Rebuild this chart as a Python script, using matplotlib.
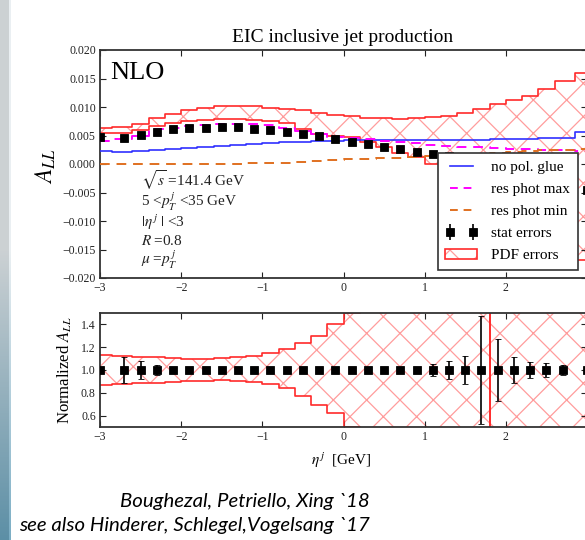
import numpy as np
import matplotlib
matplotlib.use("Agg")
import matplotlib.pyplot as plt
from matplotlib.patches import Patch
from matplotlib.lines import Line2D

plt.rcParams['font.family'] = ['Liberation Serif', 'DejaVu Serif']
plt.rcParams['mathtext.fontset'] = 'stix'
plt.rcParams['hatch.color'] = '#ff9c9c'
plt.rcParams['hatch.linewidth'] = 0.9

# ---------------- data ----------------
eta = [-3.0, -2.7, -2.5, -2.3, -2.1, -1.9, -1.7, -1.5, -1.3, -1.1, -0.9, -0.7, -0.5, -0.3, -0.1,
       0.1, 0.3, 0.5, 0.7, 0.9, 1.1, 1.3, 1.5, 1.7, 1.9, 2.1, 2.3, 2.5, 2.7, 3.0]

all_central = [0.0047, 0.0046, 0.0051, 0.0056, 0.0061, 0.0063, 0.0064, 0.0065, 0.0065, 0.0062,
               0.0060, 0.0057, 0.0052, 0.0049, 0.0044, 0.0039, 0.0035, 0.0030, 0.0026, 0.0021,
               0.0017, 0.0014, 0.0008, 0.0002, -0.0005, -0.0013, -0.0021, -0.0029, -0.0037, -0.0045]

rel_stat_err = [0.0, 0.117, 0.077, 0.044, 0.02, 0.01, 0.008, 0.008, 0.008, 0.008,
                0.008, 0.008, 0.008, 0.008, 0.008, 0.008, 0.008, 0.008, 0.01, 0.02,
                0.053, 0.08, 0.125, 0.47, 0.27, 0.11, 0.073, 0.059, 0.044, 0.03]

no_pol_glue = [0.0022, 0.0021, 0.0022, 0.0024, 0.0026, 0.0028, 0.0030, 0.0032, 0.0034, 0.0035,
               0.0037, 0.0038, 0.0039, 0.0040, 0.0041, 0.0042, 0.0042, 0.0042, 0.0042, 0.0042,
               0.0042, 0.0042, 0.0042, 0.0042, 0.0043, 0.0043, 0.0044, 0.0046, 0.0046, 0.0057]

res_phot_max = [0.0041, 0.0044, 0.0050, 0.0061, 0.0064, 0.0067, 0.0068, 0.0071, 0.0071, 0.0071,
                0.0068, 0.0064, 0.0058, 0.0053, 0.0048, 0.0046, 0.0043, 0.0041, 0.0038, 0.0036,
                0.0034, 0.0032, 0.0030, 0.0029, 0.0028, 0.0027, 0.0026, 0.0025, 0.0024, 0.0023]

res_phot_min = [0.0000, 0.0000, 0.0000, 0.0000, 0.0000, 0.0000, 0.0000, 0.0000, 0.0000, 0.0001,
                0.0001, 0.0002, 0.0003, 0.0005, 0.0007, 0.0008, 0.0009, 0.0010, 0.0011, 0.0012,
                0.0014, 0.0015, 0.0017, 0.0018, 0.0020, 0.0021, 0.0022, 0.0024, 0.0025, 0.0027]

pdf_upper = [0.0064, 0.0065, 0.0071, 0.0080, 0.0088, 0.0094, 0.0098, 0.0101, 0.0101, 0.0101,
             0.0099, 0.0096, 0.0094, 0.0089, 0.0086, 0.0084, 0.0081, 0.0080, 0.0079, 0.0080,
             0.0082, 0.0084, 0.0090, 0.0097, 0.0105, 0.0113, 0.0120, 0.0131, 0.0145, 0.0159]

pdf_lower = [0.0055, 0.0055, 0.0059, 0.0066, 0.0072, 0.0076, 0.0078, 0.0079, 0.0079, 0.0078,
             0.0076, 0.0072, 0.0062, 0.0052, 0.0050, 0.0047, 0.0038, 0.0029, 0.0020, 0.0012,
             0.0000, -0.0010, -0.0025, -0.0045, -0.0065, -0.0085, -0.0105, -0.0125, -0.0145, -0.0168]

norm_central = [1.0] * len(eta)

norm_pdf_upper = [1.13, 1.12, 1.115, 1.11, 1.105, 1.10, 1.10, 1.105, 1.11, 1.12,
                  1.145, 1.18, 1.235, 1.30, 1.40, 1.50, 3.0, 3.0, 3.0, 3.0,
                  3.0, 3.0, 3.0, 3.0, -3.0, -3.0, -3.0, -3.0, -3.0, -3.0]

norm_pdf_lower = [0.87, 0.88, 0.885, 0.89, 0.895, 0.90, 0.905, 0.91, 0.905, 0.895,
                  0.875, 0.84, 0.77, 0.69, 0.62, 0.50, -1.0, -1.0, -1.0, -1.0,
                  -1.0, -1.0, -1.0, -1.0, 4.0, 4.0, 4.0, 4.0, 4.0, 4.0]

x_ticks = [-3, -2, -1, 0, 1, 2, 3]
top_yticks = [-0.020, -0.015, -0.010, -0.005, 0.000, 0.005, 0.010, 0.015, 0.020]
bot_yticks = [0.6, 0.8, 1.0, 1.2, 1.4]

info_lines = [r'$\sqrt{s}\;$=141.4 GeV', r'5 <$p_T^{\,j}$ <35 GeV', r'$|\eta^{\,j}\;|$ <3',
              r'$R\;$=0.8', r'$\mu\;$=$p_T^{\,j}$']

# ---------------- figure ----------------
W, H = 585, 540
fig = plt.figure(figsize=(W / 100, H / 100), dpi=100)

def fx(px):
    return px / W

def fy(py):
    return 1 - py / H

# left slide strip (decoration)
sax = fig.add_axes([0, 0, fx(11), 1])
grad = np.ones((H, 11, 3))
c_top = np.array([0.80, 0.82, 0.83])
c_bot = np.array([0.36, 0.56, 0.65])
t = np.clip((np.arange(H) - 250) / 290, 0, 1)[:, None]
grad[:, :, :] = (c_top * (1 - t) + c_bot * t)[:, None, :]
grad[:, 9:, :] = np.clip(grad[:, 9:, :] + 0.12, 0, 1)
sax.imshow(grad, aspect='auto', extent=[0, 1, 0, 1], interpolation='bilinear')
sax.axis('off')

axL, axR = 100, 587
ax1 = fig.add_axes([fx(axL), fy(278), fx(axR - axL), (278 - 50) / H])
ax2 = fig.add_axes([fx(axL), fy(427), fx(axR - axL), (427 - 313) / H])

red = '#ff2a2a'
lw = 1.2
ms = 5.4

def style(ax):
    ax.tick_params(direction='in', top=True, right=True, length=4, width=0.8,
                   labelsize=8.5, colors='#222222', pad=3)
    for s in ax.spines.values():
        s.set_color('#333333')
        s.set_linewidth(1.3)
    ax.set_xlim(-3, 3)
    ax.set_xticks(x_ticks)
    ax.set_xticklabels([f'{v:d}'.replace('-', '\u2212') for v in x_ticks])

# ---- top panel ----
style(ax1)
ax1.fill_between(eta, pdf_lower, pdf_upper, step='mid', facecolor='none',
                 edgecolor='#ff9c9c', hatch='x', linewidth=0, zorder=1)
ax1.step(eta, pdf_upper, where='mid', color=red, lw=lw, zorder=2)
ax1.step(eta, pdf_lower, where='mid', color=red, lw=lw, zorder=2)
ax1.step(eta, no_pol_glue, where='mid', color='#3030ff', lw=lw, zorder=3)
ax1.step(eta, res_phot_max, where='mid', color='#ff00ff', lw=lw + 0.2, ls=(0, (5, 3.5)), zorder=3)
ax1.step(eta, res_phot_min, where='mid', color='#e07020', lw=lw + 0.2, ls=(0, (5, 3.5)), zorder=3)
top_err = [abs(c) * r for c, r in zip(all_central, rel_stat_err)]
ax1.errorbar(eta, all_central, yerr=top_err, fmt='s', color='black', ms=ms, mew=0.6,
             elinewidth=1.2, capsize=2.5, capthick=1.0, zorder=4)
ax1.set_ylim(-0.02, 0.02)
ax1.set_yticks(top_yticks)
ax1.set_yticklabels([f'{v:.3f}'.replace('-', '\u2212') for v in top_yticks])

ax1.text(fx(110), fy(73), 'NLO', transform=fig.transFigure, fontsize=19, va='center', ha='left')
info_y = [180, 202, 222, 241, 260]
for s, yy in zip(info_lines, info_y):
    ax1.text(fx(141), fy(yy), s, transform=fig.transFigure, fontsize=11, va='center', ha='left',
             color='#222222')

h_line = Line2D([], [], color='#3030ff', lw=lw)
h_max = Line2D([], [], color='#ff00ff', lw=lw + 0.2, ls=(0, (4, 3)))
h_min = Line2D([], [], color='#e07020', lw=lw + 0.2, ls=(0, (4, 3)))
h_stat = ax1.errorbar([], [], yerr=[], fmt='s', color='black', ms=ms, mew=0.6, elinewidth=1.2,
                      capsize=2.5)
h_pdf = (Patch(facecolor='white', edgecolor='#ff9c9c', hatch='x', lw=0),
         Patch(facecolor='none', edgecolor=red, lw=1.2))
leg = ax1.legend([h_line, h_max, h_min, h_stat, h_pdf],
                 ['no pol. glue', 'res phot max', 'res phot min', 'stat errors', 'PDF errors'],
                 loc='lower right', bbox_to_anchor=(0.981, 0.035), fontsize=11,
                 fancybox=False, framealpha=1, edgecolor='#333333', numpoints=2,
                 handlelength=2.1, borderpad=0.5, labelspacing=0.55, handletextpad=0.9,
                 borderaxespad=0)
leg.get_frame().set_linewidth(1.2)
leg.set_zorder(10)

fig.text(fx(343), fy(38), 'EIC inclusive jet production', fontsize=14, ha='center', va='center')
fig.text(fx(46), fy(166), r'$A_{LL}$', fontsize=17, rotation=90, ha='center', va='center')

# ---- bottom panel ----
style(ax2)
ax2.fill_between(eta, norm_pdf_lower, norm_pdf_upper, step='mid', facecolor='none',
                 edgecolor='#ff9c9c', hatch='x', linewidth=0, zorder=1)
ax2.step(eta, norm_pdf_upper, where='mid', color=red, lw=lw, zorder=2)
ax2.step(eta, norm_pdf_lower, where='mid', color=red, lw=lw, zorder=2)
ax2.errorbar(eta, norm_central, yerr=rel_stat_err, fmt='s', color='black', ms=ms, mew=0.6,
             elinewidth=1.2, capsize=2.5, capthick=1.0, zorder=4)
ax2.set_ylim(0.5, 1.5)
ax2.set_yticks(bot_yticks)
ax2.set_yticklabels([f'{v:.1f}' for v in bot_yticks])

fig.text(fx(65), fy(370), r'Normalized $A_{LL}$', fontsize=12, rotation=90, ha='center', va='center')
fig.text(fx(341), fy(460), r'$\eta^{\,j}$  [GeV]', fontsize=11, ha='center', va='center')

# citation
fig.text(fx(370), fy(502), 'Boughezal, Petriello, Xing `18', fontsize=14.7, style='italic',
         family='Lato', ha='right', va='center')
fig.text(fx(370), fy(525), 'see also Hinderer, Schlegel,Vogelsang `17', fontsize=14.7,
         style='italic', family='Lato', ha='right', va='center')

fig.savefig('out.png', dpi=100)
